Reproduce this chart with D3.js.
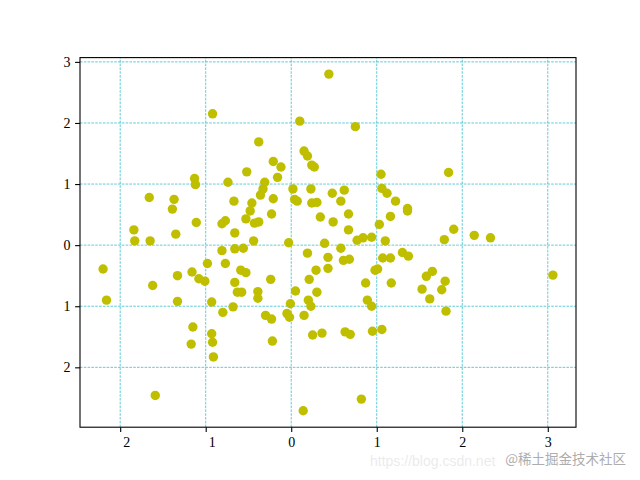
<!DOCTYPE html>
<html>
<head>
<meta charset="utf-8">
<script src="https://cdn.jsdelivr.net/npm/d3@7"></script>
<style>
  body { margin: 0; background: #fff; }
</style>
</head>
<body>
<script>
// scatter values
var xs = [0.44, -0.92, 0.10, 0.75, -0.38, 0.15, 0.19, 0.24, 0.27, -0.21,
  -0.12, -0.52, -0.16, -1.13, -1.12, -0.74, -0.31, -0.33, -0.36, -0.21,
  0.02, 0.04, 0.07, -1.66, -1.37, -0.67, -0.46, -1.39, -0.48, -0.23,
  -0.53, -0.77, -0.81, -0.38, -0.43, -1.11, -1.35, -0.66, -0.44, -1.65,
  -1.84, -1.83, -0.03, -0.81, -0.66, -0.56, -0.98, -0.77, -2.20, -1.33,
  -1.16, -1.08, -1.01, -1.62, -0.66, -0.59, -0.53, -0.63, -0.58, -0.24,
  -0.39, -0.39, -2.16, -1.33, -0.93, -0.68, -0.80, -0.30, -0.23, -0.05,
  -0.02, -0.01, -1.15, -0.93, -0.92, -1.17, -0.91, -0.22, -1.59, 0.39,
  0.77, 0.84, 0.94, 1.10, 0.19, 0.58, 0.43, 0.61, 0.68, 1.07,
  1.16, 1.30, 1.37, 0.29, 0.43, 0.98, 1.01, 0.21, 0.87, 1.17,
  0.05, 0.30, 0.20, 0.23, 0.89, 0.94, 0.15, 0.25, 0.36, 0.63,
  0.69, 0.95, 1.06, 0.82, 0.14, 0.23, 0.24, 0.30, 0.48, 0.62,
  0.58, 0.34, 0.49, 0.67, 0.67, 1.05, 1.06, 1.12, 1.22, 1.36,
  1.36, 1.16, 1.03, 1.84, 1.90, 1.79, 2.14, 2.33, 1.65, 1.58,
  1.53, 1.62, 1.76, 1.80, 1.81, 3.06];
var ys = [2.80, 2.15, 2.03, 1.94, 1.69, 1.54, 1.46, 1.31, 1.28, 1.37,
  1.28, 1.20, 1.11, 1.09, 0.99, 1.03, 1.03, 0.92, 0.82, 0.76,
  0.92, 0.75, 0.72, 0.78, 0.75, 0.72, 0.69, 0.59, 0.56, 0.51,
  0.43, 0.40, 0.35, 0.38, 0.36, 0.37, 0.18, 0.20, 0.07, 0.07,
  0.25, 0.07, 0.04, -0.09, -0.06, -0.05, -0.30, -0.30, -0.39, -0.50,
  -0.44, -0.55, -0.59, -0.66, -0.61, -0.41, -0.45, -0.77, -0.77, -0.56,
  -0.76, -0.87, -0.90, -0.92, -0.93, -1.01, -1.10, -1.15, -1.21, -1.12,
  -1.18, -0.96, -1.34, -1.45, -1.59, -1.62, -1.83, -1.57, -2.46, 0.03,
  0.08, 0.12, 0.13, 0.07, -0.13, -0.05, -0.20, -0.25, -0.23, -0.21,
  -0.21, -0.12, -0.18, -0.41, -0.38, -0.41, -0.39, -0.56, -0.62, -0.62,
  -0.75, -0.77, -0.90, -1.00, -0.90, -1.00, -1.15, -1.47, -1.44, -1.42,
  -1.46, -1.41, -1.38, -2.52, -2.71, 0.92, 0.69, 0.70, 0.85, 0.90,
  0.72, 0.46, 0.38, 0.51, 0.25, 1.16, 0.93, 0.85, 0.72, 0.60,
  0.56, 0.47, 0.34, 1.19, 0.26, 0.09, 0.16, 0.12, -0.43, -0.51,
  -0.72, -0.88, -0.73, -0.59, -1.08, -0.49];

var xTicks = [-2, -1, 0, 1, 2, 3];
var yTicks = [-2, -1, 0, 1, 2, 3];
var xDomain = [-2.47, 3.33];
var yDomain = [-2.98, 3.07];

var width = 640, height = 480;
var margin = { top: 57.6, right: 64, bottom: 52.8, left: 80 };

var svg = d3.select("body").append("svg")
  .attr("width", width)
  .attr("height", height)
  .style("font-family", "'Liberation Serif', 'DejaVu Serif', serif");

var x = d3.scaleLinear()
  .domain(xDomain)
  .range([margin.left, width - margin.right]);

var y = d3.scaleLinear()
  .domain(yDomain)
  .range([height - margin.bottom, margin.top]);

// dashed cyan grid
var grid = svg.append("g").attr("class", "grid");
grid.selectAll(".vgrid")
  .data(xTicks).enter()
  .append("line")
  .attr("x1", function (d) { return x(d); })
  .attr("x2", function (d) { return x(d); })
  .attr("y1", y.range()[0])
  .attr("y2", y.range()[1])
  .attr("stroke", "#1fb5c4")
  .attr("stroke-width", 0.7)
  .attr("stroke-dasharray", "2.6,1.2");
grid.selectAll(".hgrid")
  .data(yTicks).enter()
  .append("line")
  .attr("y1", function (d) { return y(d); })
  .attr("y2", function (d) { return y(d); })
  .attr("x1", x.range()[0])
  .attr("x2", x.range()[1])
  .attr("stroke", "#1fb5c4")
  .attr("stroke-width", 0.7)
  .attr("stroke-dasharray", "2.6,1.2");

// points
svg.append("g").selectAll("circle")
  .data(xs.map(function (d, i) { return [d, ys[i]]; }))
  .enter()
  .append("circle")
  .attr("cx", function (d) { return x(d[0]); })
  .attr("cy", function (d) { return y(d[1]); })
  .attr("r", 4.7)
  .attr("fill", "#bfbf00");

// axes: labels drop the minus sign like the original font did
var xAxis = d3.axisBottom(x)
  .tickValues(xTicks)
  .tickSize(4.9)
  .tickPadding(4.5)
  .tickFormat(function (d) { return Math.abs(d); });
var yAxis = d3.axisLeft(y)
  .tickValues(yTicks)
  .tickSize(4.9)
  .tickPadding(4.5)
  .tickFormat(function (d) { return Math.abs(d); });

var gx = svg.append("g")
  .attr("transform", "translate(0," + y.range()[0] + ")")
  .call(xAxis);
var gy = svg.append("g")
  .attr("transform", "translate(" + x.range()[0] + ",0)")
  .call(yAxis);

[gx, gy].forEach(function (g) {
  g.select(".domain").remove();
  g.selectAll(".tick line").attr("stroke", "#000").attr("stroke-width", 1.1);
  g.selectAll(".tick text")
    .attr("fill", "#000")
    .style("font-size", "14px")
    .style("font-family", "'Liberation Serif', 'DejaVu Serif', serif");
});
gx.selectAll(".tick text")
  .attr("dx", function (d) { return d < 0 ? 6 : 0; });

// frame
svg.append("rect")
  .attr("x", x.range()[0])
  .attr("y", y.range()[1])
  .attr("width", x.range()[1] - x.range()[0])
  .attr("height", y.range()[0] - y.range()[1])
  .attr("fill", "none")
  .attr("stroke", "#000")
  .attr("stroke-width", 1.1);

// watermark
svg.append("text")
  .attr("x", 370)
  .attr("y", 466)
  .attr("fill", "#000")
  .attr("opacity", 0.08)
  .style("font-family", "'Liberation Sans', sans-serif")
  .style("font-size", "14px")
  .text("https://blog.csdn.net");
svg.append("text")
  .attr("x", 626)
  .attr("y", 464)
  .attr("text-anchor", "end")
  .attr("fill", "#999")
  .attr("opacity", 0.8)
  .style("font-family", "'Noto Sans CJK SC', sans-serif")
  .style("font-size", "13.5px")
  .text("@稀土掘金技术社区");
</script>
</body>
</html>
